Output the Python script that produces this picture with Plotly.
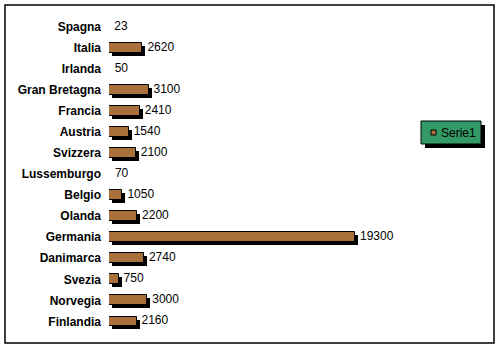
import plotly.graph_objects as go

countries = ["Spagna", "Italia", "Irlanda", "Gran Bretagna", "Francia", "Austria",
             "Svizzera", "Lussemburgo", "Belgio", "Olanda", "Germania", "Danimarca",
             "Svezia", "Norvegia", "Finlandia"]
values = [23, 2620, 50, 3100, 2410, 1540, 2100, 70, 1050, 2200, 19300, 2740, 750, 3000, 2160]
series_name = "Serie1"

W, H = 500, 348
ML, MR, MT, MB = 109, 80, 16, 16
PW = W - ML - MR
PH = H - MT - MB
XMAX = 24400
px_x = XMAX / PW            # data units per pixel (x)
n = len(countries)
px_y = n / PH               # category units per pixel (y)

bar_w = 0.47
shift_px = 3
FONT = "Liberation Sans, Arial"
BAR_COLOR = "#a8713c"

# bars shorter than one pixel are not visible in the original
visible = [v / px_x >= 1 for v in values]
opac = [1 if s else 0 for s in visible]

fig = go.Figure()
# shadow
fig.add_trace(go.Bar(
    y=countries, x=values, orientation="h",
    base=shift_px * px_x, width=bar_w, offset=-bar_w / 2 + shift_px * px_y,
    marker=dict(color="black", opacity=opac, line=dict(width=0)),
    showlegend=False, hoverinfo="skip"))
# main bars
fig.add_trace(go.Bar(
    y=countries, x=values, orientation="h", name=series_name,
    width=bar_w, offset=-bar_w / 2,
    marker=dict(color=BAR_COLOR, opacity=opac,
                line=dict(color="black", width=1)),
    showlegend=False))
# value labels
fig.add_trace(go.Scatter(
    y=countries, x=[v + 5 * px_x for v in values], mode="text",
    text=[str(v) for v in values], textposition="middle right",
    textfont=dict(family=FONT, size=12, color="black"),
    showlegend=False, hoverinfo="skip"))

def paper_x(p):
    return (p - ML) / PW

def paper_y(p):
    return 1 - (p - MT) / PH

# legend box (drawn manually)
LX0, LX1, LY0, LY1 = 421, 481, 121, 144
shapes = [
    dict(type="rect", xref="paper", yref="paper",
         x0=paper_x(5), x1=paper_x(494), y0=paper_y(343), y1=paper_y(5),
         line=dict(color="black", width=1.5), fillcolor="rgba(0,0,0,0)", layer="below"),
    dict(type="rect", xref="paper", yref="paper",
         x0=paper_x(LX0 + 4), x1=paper_x(LX1 + 4), y0=paper_y(LY1 + 4), y1=paper_y(LY0 + 4),
         line=dict(width=0), fillcolor="black", layer="above"),
    dict(type="rect", xref="paper", yref="paper",
         x0=paper_x(LX0), x1=paper_x(LX1), y0=paper_y(LY1), y1=paper_y(LY0),
         line=dict(color="black", width=1), fillcolor="#339966", layer="above"),
    dict(type="rect", xref="paper", yref="paper",
         x0=paper_x(431), x1=paper_x(436), y0=paper_y(135), y1=paper_y(130),
         line=dict(color="black", width=1), fillcolor=BAR_COLOR, layer="above"),
]
annotations = [
    dict(text=series_name, xref="paper", yref="paper", x=paper_x(439), y=paper_y(132.5),
         xanchor="left", yanchor="middle", showarrow=False,
         font=dict(family=FONT, size=12, color="black")),
]

fig.update_layout(
    width=W, height=H,
    margin=dict(l=ML, r=MR, t=MT, b=MB, autoexpand=False),
    paper_bgcolor="white", plot_bgcolor="white",
    barmode="overlay", bargap=0,
    showlegend=False,
    xaxis=dict(range=[0, XMAX], visible=False, fixedrange=True),
    yaxis=dict(range=[n - 0.5, -0.5], type="category", showgrid=False, zeroline=False,
               showline=False, ticks="", ticklabelstandoff=7,
               tickfont=dict(family=FONT, size=12, color="black", weight="bold")),
    shapes=shapes,
    annotations=annotations,
    font=dict(family=FONT),
)

fig.write_html("out.html")
